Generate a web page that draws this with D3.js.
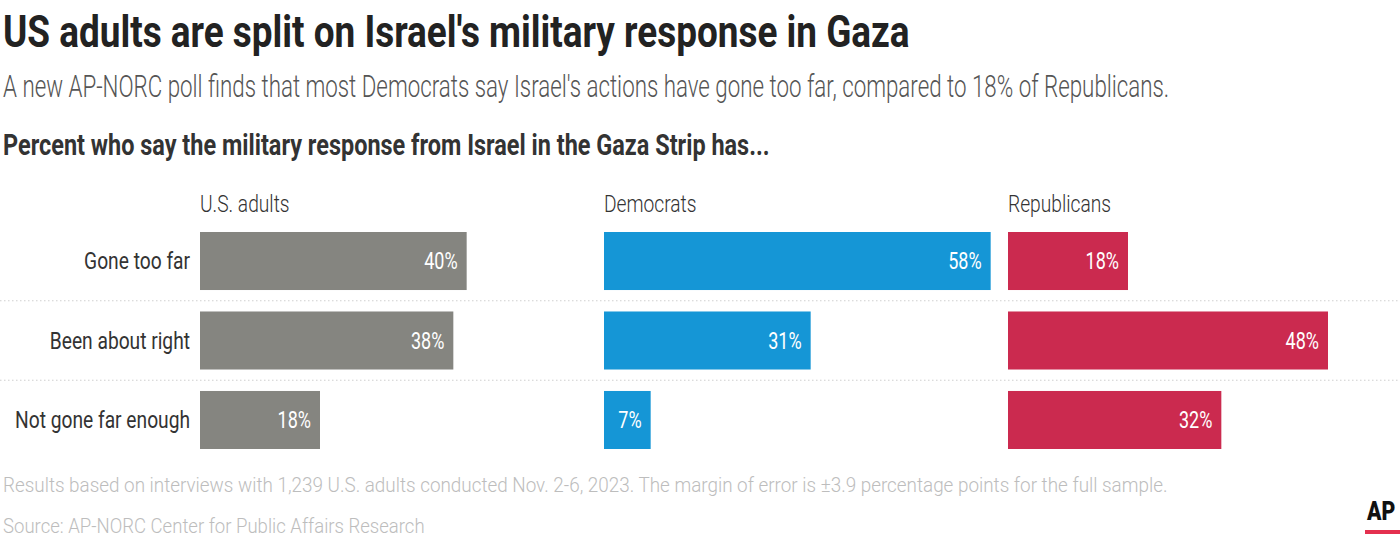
<!DOCTYPE html>
<html lang="en">
<head>
  <meta charset="UTF-8">
  <title>US adults are split on Israel's military response in Gaza</title>
  <script src="https://d3js.org/d3.v7.min.js"></script>
  <style>
    body { margin: 0; background: #fff; }
    svg { display: block; font-family: Roboto, "Noto Sans", sans-serif; }
  </style>
</head>
<body>
  <svg id="chart"></svg>
  <script>
    // Data
    const categories = ["Gone too far", "Been about right", "Not gone far enough"];
    const groups = ["U.S. adults", "Democrats", "Republicans"];
    const usAdults = [40, 38, 18];
    const democrats = [58, 31, 7];
    const republicans = [18, 48, 32];
    const groupValues = [usAdults, democrats, republicans];
    const groupColors = ["#858580", "#1596d6", "#cb2a4f"];

    const title = "US adults are split on Israel's military response in Gaza";
    const subtitle = "A new AP-NORC poll finds that most Democrats say Israel's actions have gone too far, compared to 18% of Republicans.";
    const header = "Percent who say the military response from Israel in the Gaza Strip has...";
    const note = "Results based on interviews with 1,239 U.S. adults conducted Nov. 2-6, 2023. The margin of error is \u00b13.9 percentage points for the full sample.";
    const source = "Source: AP-NORC Center for Public Affairs Research";

    const width = 1400, height = 539;
    const svg = d3.select("#chart").attr("width", width).attr("height", height);

    // condensed look: squeeze text horizontally, either by a fixed factor
    // or so that it spans a measured width
    function label(parent, str, x, y, o) {
      const g = parent.append("g");
      const t = g.append("text")
        .attr("text-anchor", o.anchor || "start")
        .attr("dominant-baseline", o.baseline || "auto")
        .style("font-size", o.size + "px")
        .style("font-weight", o.weight || 400)
        .style("fill", o.fill || "#222")
        .text(str);
      let sx = o.sx || 0.8;
      if (o.fit) sx = o.fit / t.node().getComputedTextLength();
      g.attr("transform", `translate(${x},${y}) scale(${sx},1)`);
      return t;
    }

    label(svg, title, 3, 47, { size: 45, weight: 700, fill: "#222", fit: 907 });
    label(svg, subtitle, 3, 97, { size: 31, weight: 300, fill: "#555", fit: 1167 });
    label(svg, header, 3, 155, { size: 30, weight: 700, fill: "#333", fit: 767 });

    // scales
    const y = d3.scaleBand()
      .domain(categories)
      .range([232, 449])
      .paddingInner(0.27)
      .paddingOuter(0);

    const gx = d3.scalePoint()
      .domain(groups)
      .range([200, 1008]);

    const x = d3.scaleLinear()
      .domain([0, 60])
      .range([0, 400]);

    // dotted separators between rows
    const step = y.step();
    svg.selectAll(".sep")
      .data(categories.slice(1))
      .enter().append("line")
      .attr("class", "sep")
      .attr("x1", 0)
      .attr("x2", width)
      .attr("y1", d => y(d) - (step - y.bandwidth()) / 2)
      .attr("y2", d => y(d) - (step - y.bandwidth()) / 2)
      .attr("stroke", "#cfcfcf")
      .attr("stroke-width", 1)
      .attr("stroke-dasharray", "1.5,2.5");

    // row labels
    categories.forEach(c => {
      label(svg, c, 190, y(c) + y.bandwidth() / 2, {
        size: 24, weight: 400, fill: "#333", anchor: "end", baseline: "central"
      });
    });

    // panels
    groups.forEach((grp, gi) => {
      const x0 = gx(grp);
      label(svg, grp, x0, 212, { size: 24, weight: 300, fill: "#333" });

      const panel = svg.append("g").attr("transform", `translate(${x0},0)`);
      const rows = categories.map((c, i) => ({ c, v: groupValues[gi][i] }));

      panel.selectAll("rect")
        .data(rows)
        .enter().append("rect")
        .attr("x", x(0))
        .attr("y", d => y(d.c))
        .attr("width", d => x(d.v))
        .attr("height", y.bandwidth())
        .attr("fill", groupColors[gi]);

      rows.forEach(d => {
        label(panel, d.v + "%", x(d.v) - 9, y(d.c) + y.bandwidth() / 2, {
          size: 24, weight: 400, fill: "#fff", anchor: "end", baseline: "central", sx: 0.75
        });
      });
    });

    // footer
    label(svg, note, 3, 492, { size: 21, weight: 300, fill: "#bdbdbd", fit: 1165 });
    label(svg, source, 3, 533, { size: 21, weight: 300, fill: "#bdbdbd", fit: 422 });

    // AP mark
    label(svg, "AP", 1367, 520, { size: 25, weight: 900, fill: "#111", sx: 0.85 });
    svg.append("rect")
      .attr("x", 1365).attr("y", 530)
      .attr("width", 35).attr("height", 4)
      .attr("fill", "#e4304f");
  </script>
</body>
</html>
